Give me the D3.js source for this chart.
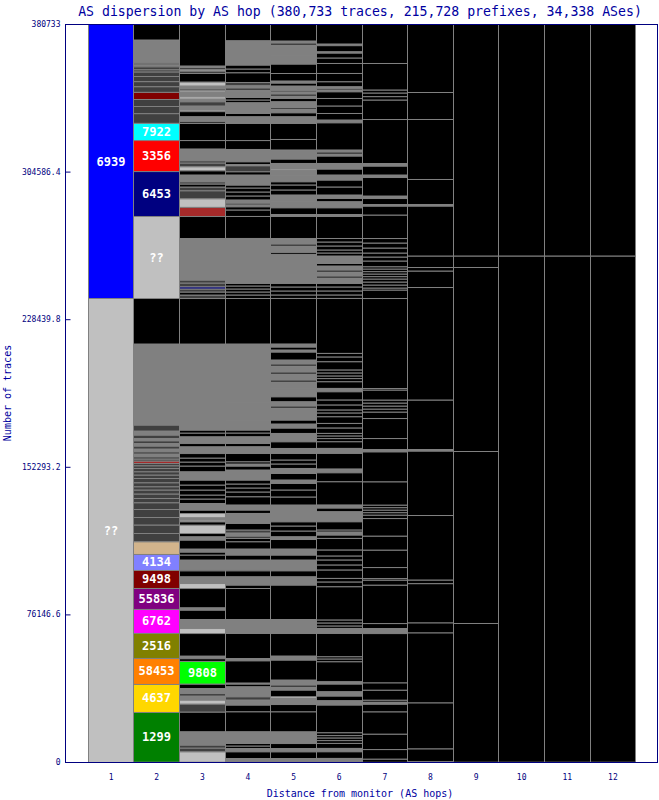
<!DOCTYPE html>
<html><head><meta charset="utf-8">
<script src="https://cdn.jsdelivr.net/npm/d3@7/dist/d3.min.js"></script>
<style>body{margin:0;background:#fff}svg{display:block}</style>
</head><body>
<svg id="chart" width="659" height="800"></svg>
<script>
// ---------- data ----------
const chartTitle = "AS dispersion by AS hop (380,733 traces, 215,728 prefixes, 34,338 ASes)";
const xTitle = "Distance from monitor (AS hops)";
const yTitle = "Number of traces";
const totalTraces = 380733;
const hops = [1,2,3,4,5,6,7,8,9,10,11,12];
const yTickValues = [0, 76146.6, 152293.2, 228439.8, 304586.4, 380733];
const yTickLabels = ["0","76146.6","152293.2","228439.8","304586.4","380733"];

// colour keys used in the hop arrays
const colorKeys = {
  k:"#000000", g:"#808080", d:"#404040", l:"#c0c0c0",
  r:"#800000", b:"#a52a2a", n:"#000080", cy:"#00ffff", red:"#ff0000",
  blue:"#0000ff", tan:"#d2b48c", lb:"#8080ff", pu:"#800080", ma:"#ff00ff",
  ol:"#808000", or:"#ff8000", go:"#ffd700", gr:"#008000", lg:"#00ff00"
};

// segments per hop, top to bottom: [traces, colour key, label]
const hop1 = [[141357,"blue","6939"],[239376,"l","??"]];

const hop2 = [[8100,"k"],[11710,"g"],[670,"d"],[670,"d"],[720,"d"],[1550,"d"],[1140,"d"],[2270,"d"],[2680,"d"],[2630,"d"],[2890,"d"],[3660,"r"],[3610,"d"],[3720,"d"],[5000,"d"],
  [8870,"cy","7922"],[15990,"red","3356"],[23170,"n","6453"],[42310,"l","??"],
  [23580,"k"],[41790,"g"],
  [3100,"d"],[2060,"g"],[1700,"d"],[1240,"g"],[1340,"d"],[1390,"g"],[1550,"d"],[1390,"g"],[1190,"d"],[1390,"g"],[1190,"d"],[1030,"d"],[1190,"b"],[1240,"d"],[1340,"d"],[1750,"d"],[1700,"d"],[1700,"d"],[2270,"d"],[2060,"d"],[1700,"d"],[2060,"d"],[2220,"d"],[2270,"d"],[3410,"d"],[4130,"d"],[3970,"d"],[4280,"d"],[4330,"d"],
  [6500,"tan"],[8250,"lb","4134"],[9290,"r","9498"],[10830,"pu","55836"],[12380,"ma","6762"],[12900,"ol","2516"],[13410,"or","58453"],[14450,"go","4637"],[25640,"gr","1299"]];

const hop3 = [[21510,"k"],[670,"g"],[1240,"d"],[670,"l"],[1190,"d"],[4490,"k"],[2060,"l"],[1550,"g"],[770,"k"],[770,"l"],[2420,"g"],[1190,"l"],[1390,"g"],[2220,"d"],[2060,"g"],[770,"l"],[2680,"k"],[2580,"g"],[830,"k"],[8820,"k"],[4440,"k"],[6040,"g"],[1190,"d"],[1910,"d"],[2060,"l"],[2220,"k"],[3460,"g"],[1190,"d"],[1550,"k"],[1910,"d"],[4130,"d"],[4390,"l"],[4690,"b"],[11350,"k"],[21510,"g"],[1550,"d"],[1910,"d"],[1190,"n"],[1550,"d"],[1550,"k"],[1700,"d"],
  [23580,"k"],[44370,"g"],[1550,"k"],[1910,"k"],[3410,"g"],[1750,"k"],[3410,"g"],[2420,"k"],[2060,"k"],[2060,"k"],[2940,"k"],[4280,"g"],[2580,"k"],[2580,"k"],[2580,"k"],[2060,"k"],[2220,"k"],[3460,"g"],[1700,"k"],[2270,"l"],[1190,"g"],[880,"l"],[1700,"k"],[4280,"l"],[1750,"k"],[1700,"g"],[4640,"k"],[1550,"g"],[1550,"k"],[2580,"k"],[4800,"g"],[720,"d"],[3100,"k"],[3410,"g"],[2580,"l"],[10010,"k"],[1190,"g"],[4800,"k"],[4640,"g"],[2580,"l"],[11710,"k"],[1290,"g"],[1390,"k"],[11760,"lg","9808"],[2220,"k"],[2580,"g"],[1390,"d"],[2060,"g"],[2060,"l"],[4130,"d"],[10160,"k"],[6860,"g"],[1550,"d"],[1910,"d"],[5310,"l"]];

const hop4 = [[8460,"k"],[12540,"g"],[2060,"k"],[1910,"k"],[4950,"k"],[1750,"d"],[1190,"g"],[1030,"k"],[880,"g"],[2890,"g"],[1390,"k"],[1390,"k"],[5470,"g"],[1750,"k"],[3410,"g"],[8820,"k"],[4590,"k"],[6400,"g"],[1340,"k"],[720,"l"],[3100,"d"],[1700,"k"],[5160,"g"],[1550,"k"],[2060,"k"],[2060,"k"],[2060,"k"],[1550,"g"],[1030,"d"],[880,"g"],[1700,"k"],[3250,"k"],[11350,"k"],[23220,"g"],[1390,"k"],[1550,"k"],[1550,"k"],[1550,"k"],[1700,"k"],
  [23580,"k"],[29920,"g"],[9290,"g"],[5160,"g"],[1550,"k"],[1910,"k"],[3410,"g"],[1750,"k"],[3410,"g"],[4330,"k"],[1190,"k"],[1030,"g"],[2060,"k"],[5160,"g"],[2060,"k"],[2060,"k"],[2060,"k"],[2420,"k"],[4280,"k"],[2580,"g"],[1700,"k"],[5160,"g"],[3460,"k"],[1550,"d"],[1550,"g"],[1190,"d"],[1750,"k"],[3770,"k"],[3100,"g"],[2580,"k"],[4800,"g"],[720,"d"],[3100,"k"],[4280,"g"],[1700,"k"],[15990,"k"],[7220,"g"],[12900,"k"],[1240,"g"],[11500,"k"],[520,"l"],[1390,"k"],[5160,"g"],[1700,"d"],[2580,"g"],[3460,"k"],[10320,"k"],[5980,"g"],[1390,"k"],[1190,"k"],[1750,"g"],[3410,"k"],[1910,"g"]];

const hop5 = [[8620,"k"],[1030,"g"],[1030,"k"],[880,"g"],[4280,"g"],[4640,"g"],[4800,"k"],[3970,"k"],[1030,"g"],[1550,"k"],[2420,"g"],[670,"k"],[1030,"g"],[1030,"k"],[1190,"g"],[1750,"k"],[2890,"g"],[880,"k"],[1910,"g"],[2060,"k"],[3410,"g"],[8250,"k"],[5520,"k"],[4640,"g"],[2220,"k"],[2940,"g"],[770,"l"],[2320,"g"],[3460,"g"],[1700,"k"],[2580,"k"],[2580,"k"],[3460,"g"],[3100,"g"],[3410,"k"],[1030,"g"],[11350,"k"],[2940,"g"],[1030,"k"],[3350,"g"],[1030,"k"],[14860,"g"],[1910,"k"],[2060,"k"],[2060,"k"],[1700,"k"],
  [23580,"k"],[1550,"g"],[1550,"k"],[1030,"g"],[4130,"k"],[2060,"g"],[1030,"k"],[3100,"g"],[1030,"k"],[3100,"g"],[1030,"k"],[3100,"g"],[4490,"g"],[2580,"k"],[2220,"g"],[1030,"k"],[6190,"g"],[2060,"k"],[2060,"g"],[2730,"k"],[4330,"g"],[3410,"k"],[2580,"g"],[3460,"k"],[2060,"k"],[2220,"k"],[2580,"g"],[3460,"k"],[1700,"g"],[3460,"k"],[3610,"k"],[4130,"k"],[8620,"g"],[2220,"k"],[2580,"k"],[2940,"k"],[1340,"g"],[5000,"k"],[3100,"g"],[2580,"k"],[5520,"g"],[3100,"k"],[4280,"g"],[17700,"k"],[7220,"g"],[11710,"k"],[2060,"g"],[10320,"k"],[2580,"g"],[1030,"k"],[1550,"g"],[3460,"k"],[830,"l"],[3100,"g"],[3820,"k"],[10320,"k"],[5980,"g"],[2580,"k"],[1750,"g"],[3410,"k"],[1910,"g"]];

const hop6 = [[10160,"k"],[770,"g"],[3200,"k"],[670,"g"],[2580,"k"],[2730,"k"],[5160,"k"],[4330,"k"],[2580,"k"],[930,"g"],[770,"k"],[880,"g"],[3410,"k"],[3970,"k"],[3770,"k"],[3460,"k"],[1390,"g"],[14080,"k"],[1030,"g"],[1030,"k"],[1030,"g"],[3770,"k"],[2940,"g"],[3100,"k"],[2580,"g"],[3610,"k"],[4130,"k"],[1700,"g"],[1750,"k"],[3100,"g"],[3410,"k"],[1030,"g"],[11350,"k"],[1910,"k"],[2060,"k"],[2060,"k"],[1550,"k"],[1550,"k"],[3770,"g"],[1390,"k"],[2060,"g"],[1030,"k"],[2060,"g"],[1030,"k"],[2730,"g"],[1910,"k"],[2060,"k"],[2060,"k"],[1700,"k"],
  [28370,"k"],[1910,"k"],[2420,"k"],[4280,"k"],[1550,"k"],[1550,"k"],[1290,"k"],[1650,"k"],[3410,"k"],[1750,"g"],[4280,"k"],[2580,"k"],[2580,"k"],[1550,"k"],[1910,"k"],[3410,"k"],[2420,"k"],[2730,"k"],[1390,"k"],[1290,"k"],[1650,"k"],[3410,"k"],[2580,"g"],[8100,"k"],[1910,"g"],[4640,"k"],[12020,"k"],[1550,"g"],[1910,"k"],[5160,"g"],[4280,"k"],[1030,"k"],[1550,"g"],[1700,"k"],[6040,"k"],[3100,"k"],[2060,"k"],[2580,"k"],[2580,"k"],[4280,"k"],[1910,"k"],[2420,"k"],[17180,"k"],[1550,"k"],[1550,"k"],[1190,"k"],[2580,"g"],[12070,"k"],[1190,"k"],[1390,"k"],[10320,"k"],[1190,"g"],[3970,"k"],[2220,"g"],[2420,"k"],[2220,"g"],[14290,"k"],[1440,"k"],[1290,"k"],[1290,"k"],[1440,"k"],[2580,"k"],[1750,"g"],[3410,"k"],[1910,"g"]];

const hop7 = [[20120,"k"],[13770,"k"],[1550,"k"],[1810,"k"],[1810,"k"],[9960,"k"],[22700,"k"],[1390,"g"],[4640,"k"],[1190,"g"],[9650,"k"],[1190,"g"],[3100,"k"],[880,"g"],[4640,"k"],[12020,"k"],[2420,"k"],[2580,"k"],[2580,"k"],[2060,"k"],[2060,"k"],[2940,"k"],[1190,"k"],[1290,"k"],[1290,"k"],[1290,"k"],[1290,"k"],[1550,"k"],[1550,"k"],[1550,"k"],[1030,"k"],[4280,"k"],
  [46430,"k"],[880,"k"],[5160,"k"],[1550,"k"],[1550,"k"],[1550,"k"],[1550,"k"],[3250,"k"],[10320,"k"],[5680,"k"],[1240,"g"],[15480,"k"],[12020,"k"],[1290,"k"],[1290,"k"],[1290,"k"],[1290,"k"],[1700,"k"],[9130,"k"],[7220,"k"],[8930,"k"],[5680,"k"],[880,"k"],[2580,"k"],[19760,"k"],[2580,"k"],[2580,"g"],[25490,"k"],[3770,"k"],[5160,"k"],[1030,"k"],[1030,"g"],[3970,"k"],[11500,"k"],[7890,"k"],[5000,"k"],[1550,"k"]];

const hop8 = [[35080,"k"],[13930,"k"],[30950,"k"],[12900,"k"],[880,"g"],[25800,"k"],[5830,"k"],[1910,"k"],[8410,"k"],[58140,"k"],[25430,"k"],[880,"g"],[33170,"k"],[33380,"k"],[1810,"k"],[20270,"k"],[5160,"k"],[36110,"k"],[23730,"k"],[6550,"k"]];

const hop9 = [[119530,"k"],[5830,"k"],[94930,"k"],[88730,"k"],[71560,"k"]];
const hop10 = [[119530,"k"],[261040,"k"]];
const hop11 = [[119530,"k"],[261040,"k"]];
const hop12 = [[119530,"k"],[261040,"k"]];

const hopSegments = [hop1,hop2,hop3,hop4,hop5,hop6,hop7,hop8,hop9,hop10,hop11,hop12];

// ---------- drawing ----------
const navy = "#000080";
const titleColor = "#0000a0";
const mono = "'DejaVu Sans Mono', 'Liberation Mono', monospace";
const svg = d3.select("#chart");

const frame = {left:65, right:658, top:24, bottom:762};
const x = d3.scaleLinear().domain([0, 13]).range([frame.left, frame.right]);
const y = d3.scaleLinear().domain([0, totalTraces]).range([frame.bottom, frame.top]);

svg.append("rect").attr("width",659).attr("height",800).attr("fill","#fff");

// columns
hops.forEach((h, i) => {
  const segs = hopSegments[i];
  let cum = totalTraces;
  const x0 = Math.round(x(h - 0.5)), x1 = Math.round(x(h + 0.5));
  const g = svg.append("g");
  const rows = segs.map(s => {
    const top = cum; cum -= s[0];
    return {top, bot: cum, color: colorKeys[s[1]], label: s[2]};
  });
  g.selectAll("rect").data(rows).join("rect")
    .attr("x", x0 + 0.5)
    .attr("width", x1 - x0)
    .attr("y", d => y(d.top) + 0.5)
    .attr("height", d => Math.max(0.01, y(d.bot) - y(d.top)))
    .attr("fill", d => d.color)
    .attr("stroke", "#808080")
    .attr("stroke-width", 1);
  g.selectAll("text").data(rows.filter(d => d.label)).join("text")
    .attr("x", (x0 + x1) / 2 + 0.5)
    .attr("y", d => (y(d.top) + y(d.bot)) / 2 + 1)
    .attr("text-anchor", "middle")
    .attr("dominant-baseline", "middle")
    .attr("fill", "#fff")
    .attr("font-family", mono)
    .attr("font-weight", "bold")
    .attr("font-size", 12)
    .text(d => d.label);
});

// frame
svg.append("rect")
  .attr("x", frame.left + 0.5).attr("y", frame.top + 0.5)
  .attr("width", frame.right - frame.left - 1).attr("height", frame.bottom - frame.top)
  .attr("fill", "none").attr("stroke", navy).attr("stroke-width", 1);

// y axis
const yAxis = d3.axisLeft(y).tickValues(yTickValues)
  .tickFormat((d, i) => yTickLabels[i]).tickSizeInner(-5).tickSizeOuter(0).tickPadding(5);
const ya = svg.append("g").attr("transform", `translate(${frame.left + 0.5},0)`).call(yAxis);
ya.select(".domain").remove();
ya.selectAll("line").attr("stroke", navy);
ya.selectAll("text").attr("fill", navy).attr("font-family", mono).attr("font-size", 8);

// x axis
const xAxis = d3.axisBottom(x).tickValues(hops).tickFormat(d3.format("d")).tickSize(0).tickPadding(12);
const xa = svg.append("g").attr("transform", `translate(0,${frame.bottom})`).call(xAxis);
xa.select(".domain").remove();
xa.selectAll("text").attr("fill", navy).attr("font-family", mono).attr("font-size", 8);

// titles
svg.append("text").attr("x", 360).attr("y", 16).attr("text-anchor", "middle")
  .attr("fill", titleColor).attr("font-family", mono).attr("font-size", 13.2).text(chartTitle);
svg.append("text").attr("x", 360).attr("y", 797).attr("text-anchor", "middle")
  .attr("fill", titleColor).attr("font-family", mono).attr("font-size", 10).text(xTitle);
svg.append("text").attr("transform", "translate(11,393) rotate(-90)").attr("text-anchor", "middle")
  .attr("fill", titleColor).attr("font-family", mono).attr("font-size", 10).text(yTitle);
</script>
</body></html>
